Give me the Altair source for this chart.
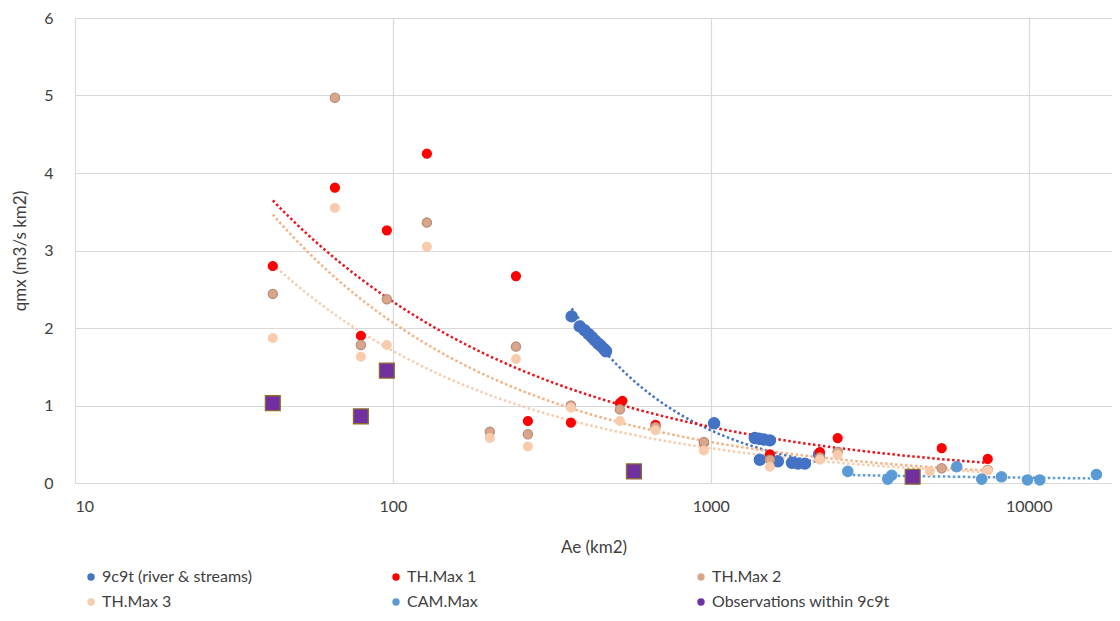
import altair as alt
import pandas as pd

SERIES = ["9c9t (river & streams)", "TH.Max 1", "TH.Max 2", "TH.Max 3",
          "CAM.Max", "Observations within 9c9t"]

ae_9c9t = [365, 387, 401, 413, 423, 432, 442, 451, 461, 468, 1024,
           1375, 1420, 1470, 1534, 1426, 1625, 1800, 1880, 1977, 2190]
q_9c9t = [2.15, 2.02, 1.97, 1.92, 1.88, 1.84, 1.80, 1.77, 1.73, 1.70, 0.77,
          0.58, 0.57, 0.56, 0.55, 0.30, 0.28, 0.26, 0.25, 0.25, 0.37]

ae_th1 = [41.9, 65.7, 79.3, 95.7, 127.9, 243.8, 265.8, 363, 517.6, 527,
          670, 951, 1534, 2203, 2506, 5324, 7430]
q_th1 = [2.80, 3.81, 1.90, 3.26, 4.25, 2.67, 0.80, 0.78, 1.03, 1.06,
         0.75, 0.52, 0.37, 0.40, 0.58, 0.45, 0.31]

ae_th2 = [41.9, 65.7, 79.3, 95.7, 127.9, 201.8, 243.8, 265.8, 363, 517.6,
          670, 951, 1534, 2203, 2506, 5324, 7430]
q_th2 = [2.44, 4.97, 1.78, 2.37, 3.36, 0.66, 1.76, 0.63, 1.00, 0.95,
         0.72, 0.53, 0.30, 0.33, 0.40, 0.19, 0.17]

ae_th3 = [41.9, 65.7, 79.3, 95.7, 127.9, 201.8, 243.8, 265.8, 363, 517.6,
          670, 951, 1534, 2203, 2506, 4886, 7430]
q_th3 = [1.87, 3.55, 1.63, 1.78, 3.05, 0.58, 1.60, 0.47, 0.97, 0.80,
         0.68, 0.42, 0.21, 0.30, 0.36, 0.15, 0.16]

ae_cam = [2697, 3603, 3707, 5937, 7115, 8209, 9909, 10834, 16330]
q_cam = [0.15, 0.05, 0.10, 0.21, 0.05, 0.08, 0.04, 0.04, 0.11]

ae_obs = [41.9, 79.3, 95.7, 573, 4315]
q_obs = [1.03, 0.86, 1.45, 0.15, 0.08]

x_ticks = [10, 100, 1000, 10000]
y_ticks = [0, 1, 2, 3, 4, 5, 6]

FILLS = ["#4472C4", "#FF0000", "#D9A68C", "#F8CBAD", "#5B9BD5", "#7030A0"]
STROKES = ["#4472C4", "#FF0000", "#B8907A", "#F8CBAD", "#5B9BD5", "#8C6D2C"]
SHAPES = ["circle", "circle", "circle", "circle", "circle", "square"]
SIZES = [125, 80, 85, 75, 105, 220]
TREND_COLORS = ["#4472C4", "#E8151B", "#F4B183", "#F8CBAD", "#5B9BD5"]

rows = []
for name, xs, ys in [(SERIES[0], ae_9c9t, q_9c9t), (SERIES[1], ae_th1, q_th1),
                     (SERIES[2], ae_th2, q_th2), (SERIES[3], ae_th3, q_th3),
                     (SERIES[4], ae_cam, q_cam), (SERIES[5], ae_obs, q_obs)]:
    rows.append(pd.DataFrame({"series": name, "Ae": xs, "qmx": ys}))
df = pd.concat(rows, ignore_index=True)

FONT = "Lato"
TXT = "#404040"

xscale = alt.Scale(type="log", domain=[10, 18280], nice=False)
yscale = alt.Scale(domain=[0, 6], nice=False)

legend = alt.Legend(title=None, orient="none", legendX=8, legendY=551, direction="horizontal",
                    columns=3, gridAlign="all", columnPadding=108, rowPadding=9,
                    symbolSize=55, labelFont=FONT, labelFontSize=16, labelColor=TXT,
                    padding=0, labelOffset=3, labelLimit=400)

points = alt.Chart(df).mark_point(filled=True, opacity=1, strokeWidth=1.3).encode(
    x=alt.X("Ae:Q", scale=xscale,
            axis=alt.Axis(values=x_ticks, format="d", title="Ae (km2)")),
    y=alt.Y("qmx:Q", scale=yscale,
            axis=alt.Axis(values=y_ticks, format="d", title="qmx (m3/s km2)")),
    color=alt.Color("series:N", scale=alt.Scale(domain=SERIES, range=FILLS), legend=legend),
    shape=alt.Shape("series:N", scale=alt.Scale(domain=SERIES, range=SHAPES), legend=legend),
    stroke=alt.Stroke("series:N", scale=alt.Scale(domain=SERIES, range=STROKES), legend=None),
    size=alt.Size("series:N", scale=alt.Scale(type="ordinal", domain=SERIES, range=SIZES),
                  legend=None),
)

# power-law trend lines (Excel-style), fitted by Vega's regression transform
# (params output: keys = groupby values, coef = [a, b] for a * x^b),
# then drawn between each series' own x extent, sampled evenly in log space
trend = alt.Chart(df).transform_filter(
    alt.datum.series != SERIES[5]
).transform_joinaggregate(
    xmin="min(Ae)", xmax="max(Ae)", groupby=["series"]
).transform_regression(
    "Ae", "qmx", method="pow", groupby=["series", "xmin", "xmax"], params=True
).transform_calculate(
    sname="datum.keys[0]", lo="datum.keys[1]", hi="datum.keys[2]",
    t="sequence(0, 201)"
).transform_flatten(["t"]).transform_calculate(
    Ae="exp(log(datum.lo) + datum.t / 200 * (log(datum.hi) - log(datum.lo)))"
).transform_calculate(
    qmx="datum.coef[0] * pow(datum.Ae, datum.coef[1])"
).mark_line(strokeDash=[2.5, 2.5], strokeWidth=2.5).encode(
    x=alt.X("Ae:Q", scale=xscale),
    y=alt.Y("qmx:Q", scale=yscale),
    color=alt.Color("sname:N", scale=alt.Scale(domain=SERIES[:5], range=TREND_COLORS),
                    legend=None),
    order=alt.Order("t:Q"),
)

chart = alt.layer(trend, points).resolve_scale(color="independent").properties(
    width=1037, height=465,
    autosize=alt.AutoSizeParams(type="none"),
    padding={"left": 67, "top": 10, "right": 0, "bottom": 132},
    background="white",
).configure_view(stroke=None).configure_axis(
    grid=True, gridColor="#D9D9D9", gridWidth=1.2, ticks=False,
    labelFont=FONT, labelFontSize=16, labelColor=TXT,
    titleFont=FONT, titleFontSize=17, titleColor=TXT, titleFontWeight="normal",
).configure_axisX(
    domain=True, domainColor="#D9D9D9", domainWidth=1.2, labelPadding=15, titlePadding=25,
).configure_axisY(
    domain=False, labelPadding=22, titlePadding=14,
)

chart.save("out.html", embed_options={"renderer": "svg", "actions": False})
